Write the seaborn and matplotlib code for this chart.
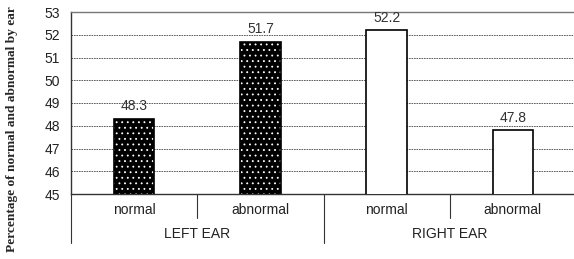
import numpy as np
import pandas as pd
import matplotlib
matplotlib.use("Agg")
import matplotlib.pyplot as plt
import matplotlib.transforms as mtransforms
import seaborn as sns

# data
conditions = ["normal", "abnormal", "normal", "abnormal"]
ears = ["LEFT EAR", "LEFT EAR", "RIGHT EAR", "RIGHT EAR"]
percent = [48.3, 51.7, 52.2, 47.8]
y_ticks = [45, 46, 47, 48, 49, 50, 51, 52, 53]

df = pd.DataFrame({
    "slot": [f"{e}|{c}" for e, c in zip(ears, conditions)],
    "condition": conditions,
    "ear": ears,
    "percent": percent,
})

sns.set_theme(style="white")
plt.rcParams['font.family'] = ['Liberation Sans', 'DejaVu Sans']
plt.rcParams['hatch.linewidth'] = 0.6

fig = plt.figure(figsize=(5.74, 2.59), dpi=100)
ax = fig.add_axes([71 / 574, 1 - 194 / 259, 505 / 574, 182 / 259])

sns.barplot(data=df, x="slot", y="percent", ax=ax, width=0.32,
            color="black", saturation=1, zorder=3)

# left ear bars: black with white dots, right ear bars: white
for patch, ear in zip(ax.patches, df["ear"]):
    if ear == "LEFT EAR":
        patch.set_facecolor("black")
        patch.set_edgecolor("white")
        patch.set_hatch("...")
        patch.set_linewidth(0)
        outline = plt.Rectangle(patch.get_xy(), patch.get_width(), patch.get_height(),
                                fill=False, edgecolor="black", linewidth=1.2, zorder=4)
        ax.add_patch(outline)
    else:
        patch.set_facecolor("white")
        patch.set_edgecolor("black")
        patch.set_linewidth(1.2)

ax.bar_label(ax.containers[0], labels=[f"{v:.1f}" for v in percent],
             padding=4, fontsize=10, color="#333333")

ax.set_ylim(45, 53)
ax.set_xlim(-0.5, 3.5)
ax.set_yticks(y_ticks)
ax.tick_params(axis="y", labelsize=10, length=0, pad=8, colors="#222222")
ax.set_xticks([])
ax.set_xlabel("")
ax.set_ylabel("Percentage of normal and abnormal by ear", family="Liberation Serif",
              fontweight="bold", fontsize=9.6)
ax.yaxis.set_label_coords(-0.104, 0.355)

for y in y_ticks[1:-1]:
    ax.axhline(y, color="#444444", linestyle=(0, (2, 1)), linewidth=0.6, zorder=1)

ax.spines["right"].set_visible(False)
ax.spines["top"].set_color("#777777")
ax.spines["left"].set_color("#333333")
ax.spines["bottom"].set_color("#333333")
for s in ["top", "left", "bottom"]:
    ax.spines[s].set_linewidth(1)

# two-level category axis below the plot
trans = mtransforms.blended_transform_factory(ax.transData, ax.transAxes)
px = 1 / 182  # one pixel in axes height
for i, c in enumerate(conditions):
    ax.text(i, -16 * px, c, transform=trans, ha="center", va="center",
            fontsize=10, color="#222222")
for x0, lab in [(0.5, "LEFT EAR"), (2.5, "RIGHT EAR")]:
    ax.text(x0, -40 * px, lab, transform=trans, ha="center", va="center",
            fontsize=10, color="#222222")
for xd in [0.5, 2.5, 3.5]:
    ax.plot([xd, xd], [0, -24 * px], transform=trans, color="#333333",
            linewidth=0.8, clip_on=False)
for xd in [-0.5, 1.5]:
    ax.plot([xd, xd], [0, -49 * px], transform=trans, color="#333333",
            linewidth=0.8, clip_on=False)

fig.savefig("out.png", dpi=100)
